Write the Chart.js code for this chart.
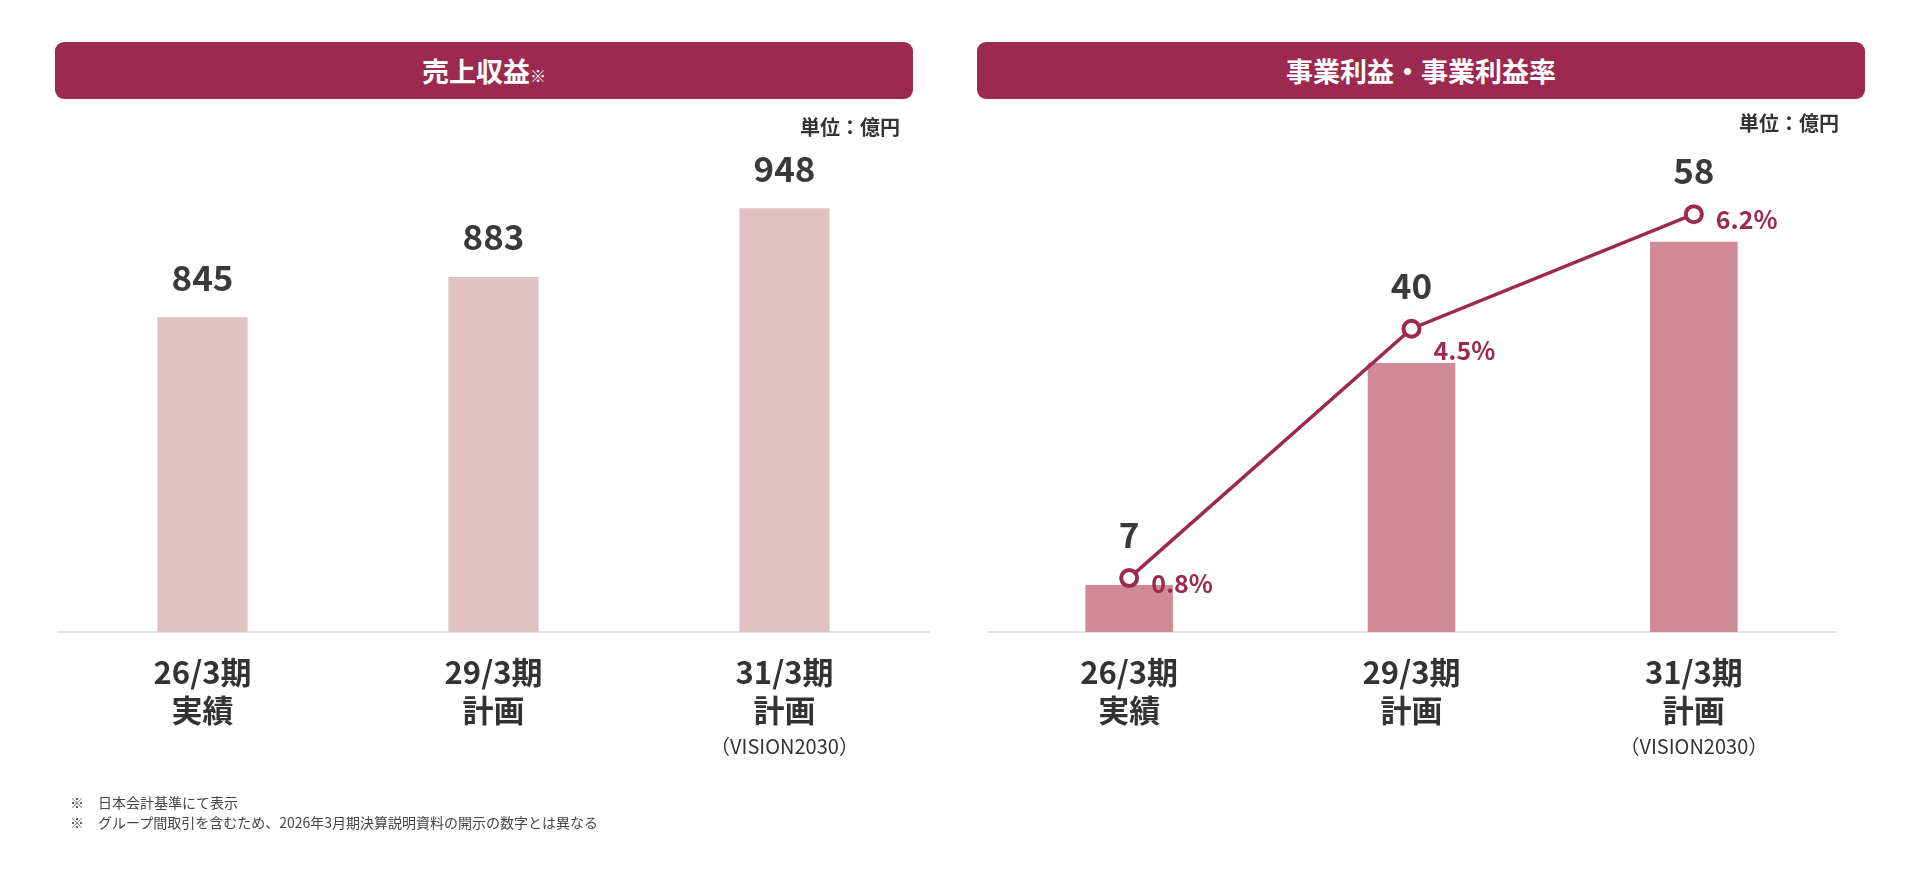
<!DOCTYPE html>
<html><head><meta charset="utf-8">
<script src="https://cdn.jsdelivr.net/npm/chart.js@4"></script>
<style>
body{margin:0;width:1920px;height:870px;background:#fff;position:relative;overflow:hidden;font-family:"Noto Sans CJK JP","Noto Sans",sans-serif;}
.hdr{position:absolute;top:42px;height:57px;background:#9c2a50;border-radius:9px;color:#fff;font-weight:bold;font-size:27px;display:flex;align-items:center;justify-content:center;z-index:2}
.hdr small{font-size:16px;font-weight:normal;margin-top:8px}
.unit{position:absolute;font-size:20px;font-weight:bold;color:#333;z-index:2}
.note{position:absolute;left:70px;font-size:14px;color:#444;z-index:2;white-space:pre}
canvas{position:absolute;top:0}
</style></head><body>
<div class="hdr" style="left:55px;width:858px">売上収益<small>※</small></div>
<div class="hdr" style="left:977px;width:888px">事業利益・事業利益率</div>
<div class="unit" style="right:1020px;top:112px">単位：億円</div>
<div class="unit" style="right:81px;top:108px">単位：億円</div>
<div class="note" style="top:792px">※　日本会計基準にて表示</div>
<div class="note" style="top:812px">※　グループ間取引を含むため、2026年3月期決算説明資料の開示の数字とは異なる</div>
<canvas id="c1" width="873" height="800" style="left:57px"></canvas>
<canvas id="c2" width="871" height="800" style="left:976px"></canvas>
<script>
const categories=["26/3期","29/3期","31/3期"];
const subLabels=["実績","計画","計画"];
const extraLabels=["","","（VISION2030）"];
const revenue=[845,883,948];
const profit=[7,40,58];
const margin=[0.8,4.5,6.2];
const marginOffsets=[5,22,5];

const XH=168;
const xLabels={id:'xl',afterDraw(ch){const c=ch.ctx,x=ch.scales.x,b=ch.chartArea.bottom;c.save();c.fillStyle='#333';c.textAlign='center';c.textBaseline='middle';
 categories.forEach((t,i)=>{const px=x.getPixelForValue(i);c.font='bold 31px "Noto Sans CJK JP"';c.fillText(t,px,b+40);c.fillText(subLabels[i],px,b+78);c.font='20px "Noto Sans CJK JP"';if(extraLabels[i])c.fillText(extraLabels[i],px,b+114);});c.restore();}};
const fixX=s=>{s.height=XH};
const baseScales=(min,max)=>({x:{grid:{display:false},border:{display:true,color:'#e2e2e2',width:2},ticks:{display:false},afterFit:fixX},
 y:{display:false,min:min,max:max}});

new Chart(document.getElementById('c1'),{type:'bar',
 data:{labels:categories,datasets:[{data:revenue,backgroundColor:'#e0c2c5',barPercentage:0.31,categoryPercentage:1}]},
 options:{responsive:false,devicePixelRatio:1,animation:false,layout:{padding:0},plugins:{legend:{display:false},tooltip:{enabled:false}},
 scales:baseScales(547.6,1144.9)},
 plugins:[xLabels,{id:'vl',afterDraw(ch){const c=ch.ctx;c.save();c.font='bold 35px "Noto Sans CJK JP"';c.fillStyle='#3a3a3a';c.textAlign='center';c.textBaseline='middle';
  ch.getDatasetMeta(0).data.forEach((b,i)=>c.fillText(revenue[i],b.x,b.y-40));c.restore();}}]});

const s2=baseScales(0,92.17);s2.y2={display:false,min:0,max:9.2};
new Chart(document.getElementById('c2'),{type:'bar',
 data:{labels:categories,datasets:[
  {type:'line',data:margin,yAxisID:'y2',borderColor:'#9c2a50',borderWidth:3.5,pointRadius:8,pointBorderWidth:4,pointBackgroundColor:'#fff',pointBorderColor:'#9c2a50',order:0},
  {data:profit,backgroundColor:'#d08a95',barPercentage:0.31,categoryPercentage:1,order:1}]},
 options:{responsive:false,devicePixelRatio:1,animation:false,layout:{padding:0},plugins:{legend:{display:false},tooltip:{enabled:false}},scales:s2},
 plugins:[xLabels,{id:'vl2',afterDraw(ch){const c=ch.ctx;c.save();c.textBaseline='middle';
  const pts=ch.getDatasetMeta(0).data,bars=ch.getDatasetMeta(1).data;
  bars.forEach((b,i)=>{c.font='bold 35px "Noto Sans CJK JP"';c.fillStyle='#3a3a3a';c.textAlign='center';c.fillText(profit[i],b.x,Math.min(b.y,pts[i].y)-43);
   c.font='bold 25px "Noto Sans CJK JP"';c.fillStyle='#9c2a50';c.textAlign='left';c.fillText(margin[i].toFixed(1)+'%',pts[i].x+22,pts[i].y+marginOffsets[i]);});
  c.restore();}}]});
</script></body></html>
